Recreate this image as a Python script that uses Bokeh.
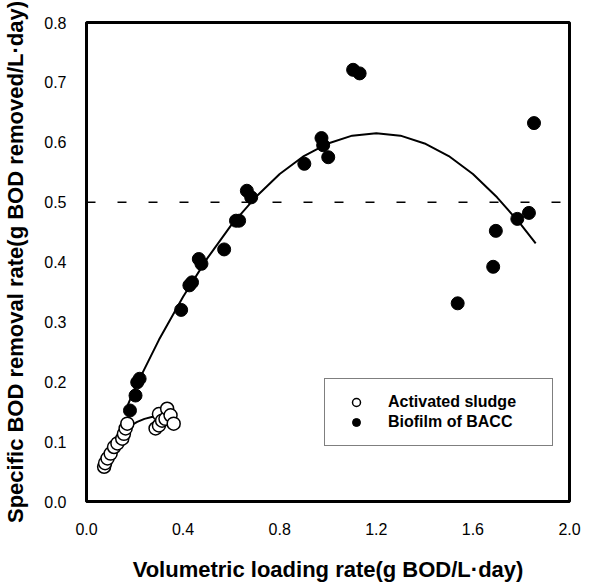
from bokeh.plotting import figure
from bokeh.models import Legend, Span, FixedTicker, NumeralTickFormatter, Range1d
from bokeh.embed import file_html
from bokeh.resources import INLINE

# Biofilm of BACC (filled circles)
bio_x = [0.180, 0.203, 0.210, 0.220, 0.392, 0.426, 0.437, 0.465, 0.476, 0.570,
         0.619, 0.632, 0.664, 0.682, 0.902, 0.973, 0.980, 1.001, 1.104, 1.131,
         1.537, 1.684, 1.695, 1.784, 1.832, 1.853]
bio_y = [0.152, 0.177, 0.199, 0.205, 0.320, 0.361, 0.366, 0.405, 0.397, 0.421,
         0.469, 0.469, 0.519, 0.508, 0.564, 0.607, 0.595, 0.575, 0.721, 0.715,
         0.331, 0.392, 0.452, 0.472, 0.482, 0.632]

# Activated sludge (open circles)
as_x = [0.073, 0.077, 0.087, 0.100, 0.114, 0.128, 0.148, 0.155, 0.162, 0.169,
        0.286, 0.300, 0.300, 0.313, 0.327, 0.334, 0.348, 0.361]
as_y = [0.058, 0.064, 0.072, 0.080, 0.091, 0.097, 0.105, 0.113, 0.122, 0.130,
        0.122, 0.127, 0.146, 0.135, 0.138, 0.155, 0.144, 0.130]

# Fitted curves
bio_fit_x = [0.17, 0.20, 0.30, 0.40, 0.50, 0.60, 0.70, 0.80, 0.90, 1.00, 1.10,
             1.20, 1.30, 1.40, 1.50, 1.60, 1.70, 1.80, 1.86]
bio_fit_y = [0.160, 0.189, 0.270, 0.342, 0.406, 0.462, 0.508, 0.547, 0.577, 0.598, 0.611,
             0.615, 0.611, 0.598, 0.577, 0.547, 0.508, 0.462, 0.431]
as_fit_x = [0.07, 0.10, 0.12, 0.15, 0.18, 0.21, 0.24, 0.27, 0.30]
as_fit_y = [0.065, 0.085, 0.100, 0.118, 0.126, 0.133, 0.138, 0.141, 0.142]

x_ticks = [0.0, 0.4, 0.8, 1.2, 1.6, 2.0]
y_ticks = [0.0, 0.1, 0.2, 0.3, 0.4, 0.5, 0.6, 0.7, 0.8]

FONT = "Liberation Sans"

p = figure(width=591, height=584, output_backend="svg", toolbar_location=None,
           x_range=Range1d(0, 2.0), y_range=Range1d(0, 0.8),
           min_border_left=84, min_border_right=22, min_border_top=22, min_border_bottom=77)
p.xgrid.grid_line_color = None
p.ygrid.grid_line_color = None
p.outline_line_color = "black"
p.outline_line_width = 3
p.background_fill_color = "white"
p.border_fill_color = "white"

for ax in (p.xaxis[0], p.yaxis[0]):
    ax.axis_line_width = 3
    ax.major_tick_line_color = None
    ax.minor_tick_line_color = None
    ax.major_label_text_font = FONT
    ax.major_label_text_font_size = "16px"
    ax.major_label_text_color = "black"
    ax.axis_label_text_font = FONT
    ax.axis_label_text_font_style = "bold"
    ax.axis_label_text_font_size = "22px"
    ax.axis_label_text_color = "black"

p.xaxis.ticker = FixedTicker(ticks=x_ticks)
p.yaxis.ticker = FixedTicker(ticks=y_ticks)
p.xaxis.formatter = NumeralTickFormatter(format="0.0")
p.yaxis.formatter = NumeralTickFormatter(format="0.0")
p.xaxis.major_label_standoff = 15
p.yaxis.major_label_standoff = 14
p.xaxis.axis_label = "Volumetric loading rate(g BOD/L\u00b7day)"
p.yaxis.axis_label = "Specific BOD removal rate(g BOD removed/L\u00b7day)"
p.xaxis.axis_label_standoff = 19
p.yaxis.axis_label_standoff = 13

span = Span(location=0.5, dimension="width", line_color="black", line_width=1.5,
            line_dash="9 22")
p.add_layout(span)

p.line(bio_fit_x, bio_fit_y, line_color="black", line_width=2)
p.line(as_fit_x, as_fit_y, line_color="black", line_width=2)

r_bio = p.scatter(bio_x, bio_y, marker="circle", size=13, fill_color="black",
                  line_color="black", line_width=1)
r_as = p.scatter(as_x, as_y, marker="circle", size=13, fill_color="white",
                 line_color="black", line_width=1.5)

legend = Legend(items=[("Activated sludge", [r_as]), ("Biofilm of BACC", [r_bio])],
                location=(238, 55))
legend.padding = 13
legend.spacing = 0
legend.label_height = 20
legend.glyph_height = 20
legend.glyph_width = 36
legend.label_standoff = 14
legend.label_width = 151
legend.label_text_font = FONT
legend.label_text_font_style = "bold"
legend.label_text_font_size = "16px"
legend.label_text_color = "black"
legend.border_line_color = "black"
legend.border_line_width = 1.5
legend.background_fill_alpha = 1
legend.margin = 0
p.add_layout(legend)

open("out.html", "w").write(file_html(p, INLINE))
